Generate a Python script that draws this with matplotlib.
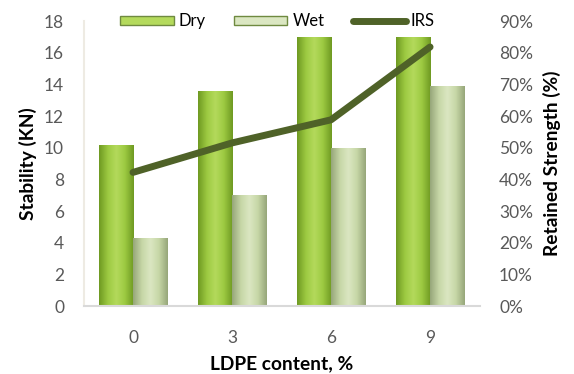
import numpy as np
import matplotlib
matplotlib.use('Agg')
from matplotlib import pyplot as plt
from matplotlib.colors import LinearSegmentedColormap
from matplotlib.ticker import PercentFormatter

# LDPE content (%) and Marshall stability results
ldpe = ['0', '3', '6', '9']
dry = [10.2, 13.6, 17.0, 17.0]
wet = [4.3, 7.0, 10.0, 13.9]
irs = [42.2, 51.5, 58.8, 81.8]

plt.rcParams['font.family'] = ['Lato', 'DejaVu Sans']

DRY_COLORS = ['#6f9a22', '#9cc941', '#b4da5c', '#9cc941', '#6f9a22']
WET_COLORS = ['#97a77a', '#c6d6a6', '#dbe7c2', '#c6d6a6', '#97a77a']
IRS_COLOR = '#4f6228'


def shade_bars(ax, bars, colors):
    '''
    fill each bar with a horizontal gradient clipped to the bar shape
    '''
    cmap = LinearSegmentedColormap.from_list('shade', colors)
    grad = np.linspace(0, 1, 64).reshape(1, -1)
    for bar in bars:
        x0, y0 = bar.get_x(), bar.get_y()
        w, h = bar.get_width(), bar.get_height()
        img = ax.imshow(grad, cmap=cmap, aspect='auto', zorder=bar.get_zorder(),
                        extent=(x0, x0 + w, y0, y0 + h), interpolation='bicubic')
        img.set_clip_path(bar)
        bar.set_facecolor('none')


def main():
    fig = plt.figure(figsize=(5.74, 3.74), dpi=100)
    ax = fig.add_axes([0.1455, 0.1818, 0.69, 0.762])

    x = np.arange(len(ldpe))
    width = 0.345
    bars_dry = ax.bar(x - width / 2, dry, width, color=DRY_COLORS[1],
                      label='Dry', zorder=2)
    bars_wet = ax.bar(x + width / 2, wet, width, color=WET_COLORS[1],
                      label='Wet', zorder=2)

    ax.set_xlim(-0.5, len(ldpe) - 0.5)
    ax.set_ylim(0, 18)
    ax.set_yticks(range(0, 19, 2))
    ax.set_xticks(x)
    ax.set_xticklabels(ldpe)

    ax2 = ax.twinx()
    line, = ax2.plot(x, irs, color=IRS_COLOR, linewidth=5,
                     solid_capstyle='round', label='IRS', zorder=3)
    ax2.set_ylim(0, 90)
    ax2.set_yticks(range(0, 91, 10))
    ax2.yaxis.set_major_formatter(PercentFormatter(decimals=0))

    for a in (ax, ax2):
        for side in ('top', 'right', 'left', 'bottom'):
            a.spines[side].set_visible(False)
        a.tick_params(length=0, labelsize=12.5, labelcolor='#595959')
    ax.spines['left'].set_visible(True)
    ax.spines['left'].set_color('#eeebe3')
    ax.spines['left'].set_linewidth(1.5)
    ax.spines['bottom'].set_visible(True)
    ax.spines['bottom'].set_color('#d9d9d9')
    ax.spines['bottom'].set_linewidth(1.5)
    ax.tick_params(axis='y', pad=14)
    ax.tick_params(axis='x', pad=17)
    ax2.tick_params(axis='y', pad=14)

    ax.set_xlabel('LDPE content, %', fontsize=13.8, fontweight='bold', labelpad=7)
    ax.set_ylabel('Stability (KN)', fontsize=13.8, fontweight='bold', labelpad=5)
    ax2.set_ylabel('Retained Strength (%)', fontsize=13.8, fontweight='bold',
                   labelpad=7)

    leg = ax2.legend([bars_dry, bars_wet, line], ['Dry', 'Wet', 'IRS'],
                     loc='upper center', bbox_to_anchor=(0.49, 1.08), ncol=3,
                     frameon=False, fontsize=12, handlelength=3.2,
                     handleheight=0.5, columnspacing=1.7, handletextpad=0.3)
    for p, c in zip(leg.get_patches(), (DRY_COLORS[2], WET_COLORS[2])):
        p.set_facecolor(c)
        p.set_edgecolor('#6f8a40')

    # gradients go on after the legend has taken the flat bar colours
    shade_bars(ax, bars_dry, DRY_COLORS)
    shade_bars(ax, bars_wet, WET_COLORS)

    fig.savefig('out.png', dpi=100)


if __name__ == '__main__':
    main()
